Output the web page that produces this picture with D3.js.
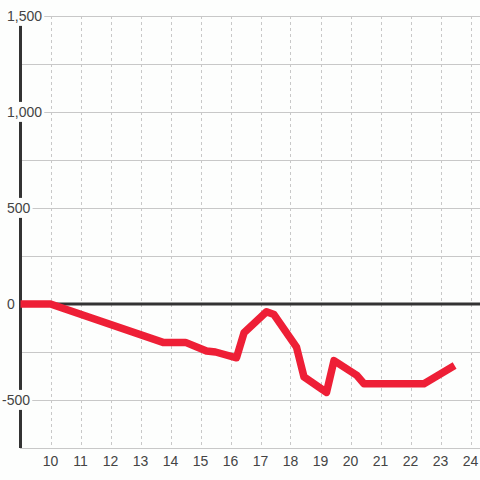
<!DOCTYPE html>
<html>
<head>
  <meta charset="utf-8">
  <script src="https://d3js.org/d3.v7.min.js"></script>
  <style>
    html, body { margin: 0; padding: 0; background: #fdfefd; }
    svg { display: block; }
    .tick-label { font: 14px "Liberation Sans", Arial, sans-serif; fill: #444; }
  </style>
</head>
<body>
  <svg width="480" height="480"></svg>
  <script>
    // hour of day
    const hours = [9, 10, 13.75, 14.5, 15.2, 15.5, 16.2, 16.45, 17.2, 17.45, 18.2, 18.45,
                   19.2, 19.45, 20.2, 20.45, 22.45, 23.47];
    const values = [0, 0, -200, -200, -245, -250, -280, -150, -40, -55, -225, -380,
                    -460, -295, -370, -415, -415, -320];
    const yTicks = [1500, 1000, 500, 0, -500];
    const yGrid = [1500, 1250, 1000, 750, 500, 250, 0, -250, -500, -750];
    const xTicks = [10, 11, 12, 13, 14, 15, 16, 17, 18, 19, 20, 21, 22, 23, 24];

    const svg = d3.select("svg");
    const width = 480;

    const x = d3.scaleLinear().domain([9, 9 + 459.5 / 30]).range([20.5, 480]);
    const y = d3.scaleLinear().domain([1500, -750]).range([16, 448]);

    // horizontal grid
    svg.append("g").selectAll("line")
      .data(yGrid.filter(d => d !== 0))
      .enter().append("line")
      .attr("x1", 20).attr("x2", width)
      .attr("y1", d => Math.round(y(d)) + 0.5).attr("y2", d => Math.round(y(d)) + 0.5)
      .attr("stroke", "#c8c8c8").attr("stroke-width", 1);

    // vertical dashed grid
    svg.append("g").selectAll("line")
      .data(xTicks)
      .enter().append("line")
      .attr("x1", d => Math.round(x(d)) + 0.5).attr("x2", d => Math.round(x(d)) + 0.5)
      .attr("y1", y(1500)).attr("y2", y(-750))
      .attr("stroke", "#c8c8c8").attr("stroke-width", 1)
      .attr("stroke-dasharray", "3,3");

    // zero line
    svg.append("line")
      .attr("x1", 20).attr("x2", width)
      .attr("y1", y(0)).attr("y2", y(0))
      .attr("stroke", "#333").attr("stroke-width", 3);

    // left axis
    svg.append("line")
      .attr("x1", 20.5).attr("x2", 20.5)
      .attr("y1", y(1500)).attr("y2", y(-750))
      .attr("stroke", "#333").attr("stroke-width", 3);

    // series
    const data = hours.map((h, i) => ({ h: h, v: values[i] }));
    const line = d3.line().x(d => x(d.h)).y(d => y(d.v));
    svg.append("path")
      .datum(data)
      .attr("d", line)
      .attr("fill", "none")
      .attr("stroke", "#ee1f36")
      .attr("stroke-width", 7.5)
      .attr("stroke-linejoin", "round");

    // y labels with background boxes
    const fmt = d3.format(",");
    const yl = svg.append("g").selectAll("g")
      .data(yTicks)
      .enter().append("g");
    yl.append("rect").attr("class", "bg");
    yl.append("text")
      .attr("class", "tick-label")
      .attr("x", d => d < 0 ? 2 : 7)
      .attr("y", d => y(d))
      .attr("dy", "0.35em")
      .text(d => fmt(d).replace("−", "-"));
    yl.each(function () {
      const g = d3.select(this);
      const b = g.select("text").node().getBBox();
      g.select("rect")
        .attr("x", b.x - 1).attr("y", b.y - 2)
        .attr("width", b.width + 3).attr("height", b.height + 4)
        .attr("fill", "#fdfefd");
    });

    // x labels
    svg.append("g").selectAll("text")
      .data(xTicks)
      .enter().append("text")
      .attr("class", "tick-label")
      .attr("x", d => x(d))
      .attr("y", 466)
      .attr("text-anchor", "middle")
      .text(d => d);
  </script>
</body>
</html>
